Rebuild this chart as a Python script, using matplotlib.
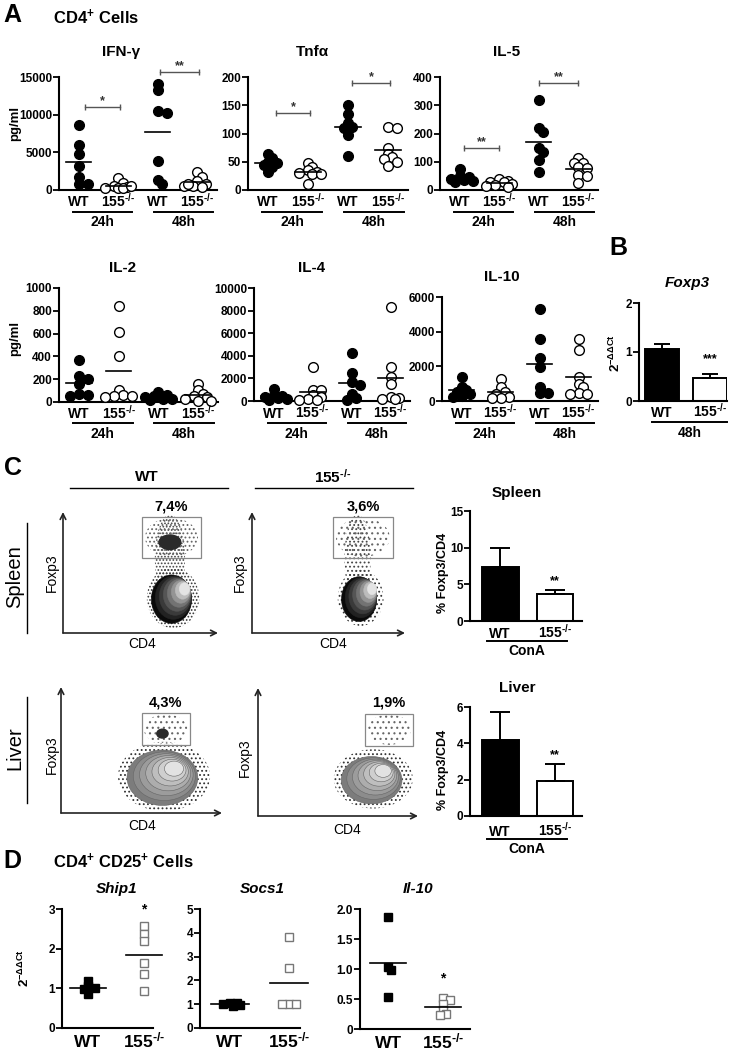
import matplotlib
matplotlib.use('Agg')
import matplotlib.pyplot as plt
import numpy as np
from matplotlib.patches import Ellipse, Rectangle
from matplotlib.transforms import offset_copy

plt.rcParams['font.family'] = ['Liberation Sans', 'DejaVu Sans']
plt.rcParams['font.weight'] = 'bold'
plt.rcParams['mathtext.fontset'] = 'custom'
plt.rcParams['mathtext.rm'] = 'Liberation Sans:bold'
plt.rcParams['mathtext.it'] = 'Liberation Sans:italic:bold'
plt.rcParams['mathtext.bf'] = 'Liberation Sans:bold'
plt.rcParams['mathtext.default'] = 'rm'
plt.rcParams['hatch.linewidth'] = 0.8

KO = '155$^{\\text{-/-}}$'

# ---- panel A: WT 24h, 155-/- 24h, WT 48h, 155-/- 48h (pg/ml)
ifng = [[8630, 5960, 4760, 3200, 1780, 760, 760],
        [1600, 900, 500, 400, 300, 200, 300, 500],
        [14100, 13300, 10500, 10200, 3870, 1330, 850],
        [2450, 1780, 1200, 850, 530, 500, 400, 800]]
tnfa = [[63, 56, 50, 47, 44, 40, 31],
        [47, 41, 35, 31, 30, 29, 28, 11],
        [151, 134, 118, 112, 109, 98, 60],
        [111, 109, 74, 64, 58, 54, 50, 43]]
il5 = [[73, 50, 45, 40, 36, 32, 28],
       [38, 33, 30, 28, 22, 18, 14, 12],
       [317, 221, 204, 150, 134, 107, 65],
       [112, 97, 95, 83, 77, 53, 51, 24]]
il2 = [[368, 226, 206, 160, 74, 60, 55],
       [838, 612, 406, 103, 60, 53, 50, 40],
       [88, 62, 50, 40, 30, 24, 15],
       [156, 109, 74, 53, 40, 29, 10, 8]]
il4 = [[1100, 500, 400, 360, 270, 210, 120],
       [2970, 1010, 1000, 500, 360, 210, 120, 60],
       [4210, 2490, 1700, 1450, 650, 250, 100],
       [8300, 3030, 2140, 1540, 360, 300, 200, 150]]
il10 = [[1400, 815, 620, 525, 390, 290, 230],
        [1260, 815, 525, 400, 230, 190, 150],
        [5280, 3590, 2500, 1980, 815, 485, 450],
        [3570, 2950, 1360, 970, 780, 470, 430, 400]]

ifng_ticks = [0, 5000, 10000, 15000]
tnfa_ticks = [0, 50, 100, 150, 200]
il5_ticks = [0, 100, 200, 300, 400]
il2_ticks = [0, 200, 400, 600, 800, 1000]
il4_ticks = [0, 2000, 4000, 6000, 8000, 10000]
il10_ticks = [0, 2000, 4000, 6000]

# significance brackets: (x from, x to, height, stars)
ifng_sig = [(1.15, 2.05, 11000, '*'), (3.05, 4.05, 15700, '**')]
tnfa_sig = [(1.2, 2.05, 136, '*'), (3.1, 4.05, 189, '*')]
il5_sig = [(1.1, 2.0, 148, '**'), (3.0, 4.0, 379, '**')]

a_groups = ['WT', KO, 'WT', KO]
a_times = ['24h', '48h']

# ---- panel B / C bars: WT, 155-/-
foxp3_mean = [1.06, 0.47]
foxp3_err = [0.10, 0.08]
spleen_mean = [7.4, 3.7]
spleen_err = [2.55, 0.5]
liver_mean = [4.2, 1.95]
liver_err = [1.5, 0.93]

# ---- panel C flow plots (axes fraction)
flow_pct = ['7,4%', '3,6%', '4,3%', '1,9%']
flow_gates = [(0.51, 0.62, 0.89, 0.96), (0.53, 0.62, 0.92, 0.96),
              (0.50, 0.54, 0.80, 0.79), (0.67, 0.55, 0.97, 0.80)]
flow_pops = [(0.70, 0.28, 0.26, 0.40), (0.70, 0.28, 0.23, 0.37),
             (0.63, 0.28, 0.44, 0.44), (0.71, 0.28, 0.38, 0.37)]
flow_spots = [(0.69, 0.75, 0.14, 0.12), None, (0.63, 0.63, 0.07, 0.07), None]

# ---- panel D: WT, 155-/- (2^-ddCt)
ship1 = [[1.18, 1.05, 1.0, 0.98, 0.85], [2.56, 2.36, 2.2, 1.64, 1.36, 0.94]]
socs1 = [[1.05, 1.05, 1.0, 0.95, 0.93], [3.82, 2.52, 1.02, 1.0, 1.02]]
il10_d = [[1.87, 1.03, 0.98, 0.54], [0.52, 0.48, 0.41, 0.31, 0.25, 0.24]]

W, H = 739, 1050
fig = plt.figure(figsize=(W / 100, H / 100), dpi=100)


def box(x0, y0, x1, y1):
    # pixel box, origin top-left
    return fig.add_axes([x0 / W, 1 - y1 / H, (x1 - x0) / W, (y1 - y0) / H])


def style(ax, ymax, ticks, labels=None, fs=8.5):
    for s in ['top', 'right']:
        ax.spines[s].set_visible(False)
    ax.spines['left'].set_linewidth(1.5)
    ax.spines['bottom'].set_linewidth(1.5)
    ax.set_ylim(0, ymax)
    ax.set_yticks(ticks)
    if labels is not None:
        ax.set_yticklabels(labels)
    ax.set_xticks([])
    ax.tick_params(axis='y', length=4, width=1.3, labelsize=fs, pad=1)
    ax.patch.set_visible(False)


def under(ax, x0, x1, dy):
    t = offset_copy(ax.get_xaxis_transform(), fig=fig, y=-dy, units='dots')
    ax.plot([x0, x1], [0, 0], color='k', lw=1.4, transform=t, clip_on=False)


def xtext(ax, xs, labels, dy, fs):
    t = offset_copy(ax.get_xaxis_transform(), fig=fig, y=-dy, units='dots')
    for x, s in zip(xs, labels):
        ax.text(x, 0, s, transform=t, ha='center', va='baseline', fontsize=fs, clip_on=False)


def swarm(vals, x0, ppx, ppy, d):
    # spread overlapping points sideways (column scatter)
    placed = []
    xs = []
    for v in vals:
        y = v * ppy
        best, best_gap = 0, -1
        for k in [0, 1, -1, 2, -2, 3, -3]:
            x = k * d * 0.45
            gap = min([np.hypot(x - px, y - py) for px, py in placed] or [99])
            if gap >= d * 0.55:
                best = x
                break
            if gap > best_gap:
                best, best_gap = x, gap
        placed.append((best, y))
        xs.append(x0 + best / ppx)
    return xs


def dots(ax, groups, pbox, xlim, ymax, marker, ms, fills, edges, half):
    ppx = (pbox[2] - pbox[0]) / (xlim[1] - xlim[0])
    ppy = (pbox[3] - pbox[1]) / ymax
    for i, vals in enumerate(groups):
        xs = swarm(vals, i + 1, ppx, ppy, ms * 1.39)
        ax.plot(xs, vals, marker, ms=ms, mfc=fills[i], mec=edges[i], mew=1.0,
                ls='none', clip_on=False, zorder=3)
        m = np.mean(vals)
        ax.plot([i + 1 - half, i + 1 + half], [m, m], color='k', lw=1.2, clip_on=False, zorder=4)


# ---------------- panel A
a_panels = [
    ('IFN-γ', ifng, ifng_ticks, ifng_sig, (59, 77, 217, 190), (121, 52)),
    ('Tnfα', tnfa, tnfa_ticks, tnfa_sig, (248, 77, 408, 190), (312, 52)),
    ('IL-5', il5, il5_ticks, il5_sig, (440, 77, 598, 190), (507, 52)),
    ('IL-2', il2, il2_ticks, [], (59, 288, 218, 402), (123, 268)),
    ('IL-4', il4, il4_ticks, [], (254, 288, 410, 401), (312, 268)),
    ('IL-10', il10, il10_ticks, [], (442, 297, 598, 401), (502, 277)),
]
fig_titles = []
for title, data, ticks, sig, pb, tpos in a_panels:
    ax = box(*pb)
    style(ax, ticks[-1], ticks)
    ax.set_xlim(0.5, 4.5)
    dots(ax, data, pb, (0.5, 4.5), ticks[-1], 'o', 7,
         ['k', 'white', 'k', 'white'], ['k'] * 4, 0.32)
    for x0, x1, y, st in sig:
        ax.plot([x0, x1], [y, y], color='#555', lw=1, marker='|', ms=5, mew=1,
                clip_on=False)
        ax.text((x0 + x1) / 2, y, st, ha='center', va='bottom', fontsize=9, color='#333')
    xtext(ax, [1, 2, 3, 4], a_groups, 16.5, 10)
    under(ax, 0.85, 2.35, 21.5)
    under(ax, 2.9, 4.4, 21.5)
    xtext(ax, [1.6, 3.65], a_times, 36.5, 10)
    fig_titles.append((title, tpos, 'normal'))

# ---------------- panel B
pb = (639, 303, 727, 401)
ax = box(*pb)
style(ax, 2, [0, 1, 2])
ax.set_xlim(0.53, 2.35)
ax.bar([1, 2], foxp3_mean, width=0.7, color=['k', 'white'], edgecolor='k', lw=1.4)
ax.errorbar([1, 2], foxp3_mean, yerr=[[0, 0], foxp3_err], fmt='none', ecolor='k',
            elinewidth=1.4, capsize=6, capthick=1.4)
ax.text(2, 0.73, '***', ha='center', va='bottom', fontsize=9)
xtext(ax, [1, 2], ['WT', KO], 16, 10)
under(ax, 0.8, 2.35, 21)
xtext(ax, [1.58], ['48h'], 36, 10)

# ---------------- panel C bars
for mean, err, ticks, pb, star_y in [
        (spleen_mean, spleen_err, [0, 5, 10, 15], (470, 511, 582, 621), 4.6),
        (liver_mean, liver_err, [0, 2, 4, 6], (470, 707, 582, 816), 3.0)]:
    ax = box(*pb)
    style(ax, ticks[-1], ticks)
    ax.set_xlim(0.45, 2.49)
    ax.bar([1, 2], mean, width=0.67, color=['k', 'white'], edgecolor='k', lw=1.4)
    ax.errorbar([1, 2], mean, yerr=[[0, 0], err], fmt='none', ecolor='k',
                elinewidth=1.4, capsize=7, capthick=1.4)
    ax.text(2, star_y, '**', ha='center', va='bottom', fontsize=9)
    low = 3 if ticks[-1] == 6 else 0
    xtext(ax, [1, 2], ['WT', KO], 17 + low, 10)
    under(ax, 0.76, 2.22, 20 + low)
    xtext(ax, [1.49], ['ConA'], 34 + low, 10)

# ---------------- panel C flow plots
flow_boxes = [(63, 512, 218, 633), (252, 512, 405, 633), (61, 687, 222, 813), (258, 688, 418, 816)]
spleen_shades = ['#0a0a0a', '#222222', '#3a3a3a', '#555555', '#737373', '#949494', '#bcbcbc', '#e4e4e4']
liver_shades = ['#7c7c7c', '#8c8c8c', '#9c9c9c', '#adadad', '#bebebe', '#cfcfcf', '#e2e2e2']
for i, pbx in enumerate(flow_boxes):
    ax = box(*pbx)
    ax.set_xlim(0, 1)
    ax.set_ylim(0, 1)
    ax.axis('off')
    arrow = dict(arrowstyle='->', lw=1.2, color='#222', shrinkA=0, shrinkB=0)
    ax.annotate('', xy=(1.0, 0), xytext=(0, 0), arrowprops=arrow)
    ax.annotate('', xy=(0, 1.0), xytext=(0, 0), arrowprops=arrow)
    cx, cy, w, h = flow_pops[i]
    gx0, gy0, gx1, gy1 = flow_gates[i]
    spleen = i < 2
    # scattered events: fine speckle halo round the population and up into the gate
    halo = '.....' if i == 0 else '....'
    ax.add_patch(Ellipse((cx + 0.01, cy + 0.01), w * 1.3, h * 1.25, fill=False,
                         hatch=halo, edgecolor='#333', lw=0))
    if spleen:
        ax.add_patch(Ellipse((cx - 0.01, (cy + gy1) / 2), w * 0.75, (gy1 - cy) * 1.05,
                             fill=False, hatch=halo, edgecolor='#444', lw=0))
    ax.add_patch(Ellipse(((gx0 + gx1) / 2, (gy0 + gy1) / 2), (gx1 - gx0) * 0.9,
                         (gy1 - gy0) * 0.95, fill=False,
                         hatch='....' if i == 0 else '...', edgecolor='#666', lw=0))
    shades = spleen_shades if spleen else liver_shades
    n = len(shades)
    for k, c in enumerate(shades):
        s = 1 - k * 0.85 / n
        ax.add_patch(Ellipse((cx + 0.012 * k, cy + 0.012 * k), w * s, h * s,
                             facecolor=c, edgecolor='#666' if not spleen else c, lw=0.4))
    if flow_spots[i] is not None:
        sx, sy, sw, sh = flow_spots[i]
        ax.add_patch(Ellipse((sx, sy), sw, sh, facecolor='#2a2a2a', edgecolor='#2a2a2a'))
    ax.add_patch(Rectangle((gx0, gy0), gx1 - gx0, gy1 - gy0, fill=False, ec='#888', lw=0.9))
    ax.text((gx0 + gx1) / 2, gy1 + 0.03, flow_pct[i], ha='center', va='bottom', fontsize=10.5)

# ---------------- panel D
d_panels = [
    ('Ship1', ship1, [0, 1, 2, 3], None, (62, 909, 153, 1028), (0.54, 2.16), 117, (2, 2.8)),
    ('Socs1', socs1, [0, 1, 2, 3, 4, 5], None, (200, 909, 300, 1028), (0.49, 2.19), 262, None),
    ('Il-10', il10_d, [0, 0.5, 1, 1.5, 2], ['0', '0.5', '1.0', '1.5', '2.0'],
     (360, 909, 470, 1029), (0.49, 2.49), 418, (2, 0.72)),
]
for title, data, ticks, tl, pb, xl, tx, star in d_panels:
    ax = box(*pb)
    style(ax, ticks[-1], ticks, tl, fs=8.5)
    ax.set_xlim(*xl)
    dots(ax, data, pb, xl, ticks[-1], 's', 5.5, ['k', 'white'], ['k', '#777'], 0.32)
    if star:
        ax.text(star[0], star[1], '*', ha='center', va='bottom', fontsize=10)
    xtext(ax, [1, 2], ['WT', KO], 19, 12.5)
    fig_titles.append((title, (tx, 889), 'italic'))

# ---------------- free text
ov = fig.add_axes([0, 0, 1, 1])
ov.set_xlim(0, W)
ov.set_ylim(H, 0)
ov.axis('off')
for t, (x, y), st in fig_titles:
    ov.text(x, y, t, ha='center', va='center', fontsize=11, fontstyle=st)
for letter, (x, y) in zip('ABCD', [(12, 15), (618, 248), (13, 468), (12, 861)]):
    ov.text(x, y, letter, ha='center', va='center', fontsize=18)
ov.text(53, 17, 'CD4$^{+}$ Cells', ha='left', va='center', fontsize=12)
ov.text(53, 861, 'CD4$^{+}$ CD25$^{+}$ Cells', ha='left', va='center', fontsize=12)
ov.text(687, 283, 'Foxp3', ha='center', va='center', fontsize=11, fontstyle='italic')
ov.text(517, 493, 'Spleen', ha='center', va='center', fontsize=11)
ov.text(517, 688, 'Liver', ha='center', va='center', fontsize=11)
for x, y in [(15, 123), (15, 338)]:
    ov.text(x, y, 'pg/ml', rotation=90, ha='center', va='center', fontsize=9.5)
for x, y in [(615, 353), (24, 968)]:
    ov.text(x, y, '2$^{-\\Delta\\Delta Ct}$', rotation=90, ha='center', va='center', fontsize=9.5)
for x, y in [(443, 573), (443, 770)]:
    ov.text(x, y, '% Foxp3/CD4', rotation=90, ha='center', va='center', fontsize=9)

# flow headers and labels
ov.text(147, 477, 'WT', ha='center', va='center', fontsize=11)
ov.plot([70, 228], [488, 488], color='k', lw=1)
ov.text(333, 477, KO, ha='center', va='center', fontsize=11)
ov.plot([255, 413], [488, 488], color='k', lw=1)
ov.text(15, 577, 'Spleen', rotation=90, ha='center', va='center', fontsize=14.5, fontweight='normal')
ov.plot([27, 27], [523, 633], color='k', lw=1)
ov.text(15, 748, 'Liver', rotation=90, ha='center', va='center', fontsize=14.5, fontweight='normal')
ov.plot([27, 27], [697, 803], color='k', lw=1)
for x, y in [(52, 573), (240, 573), (52, 755), (245, 758)]:
    ov.text(x, y, 'Foxp3', rotation=90, ha='center', va='center', fontsize=10, fontweight='normal')
for x, y in [(142, 644), (333, 644), (142, 826), (347, 830)]:
    ov.text(x, y, 'CD4', ha='center', va='center', fontsize=10, fontweight='normal')

fig.savefig('out.png', dpi=100)
